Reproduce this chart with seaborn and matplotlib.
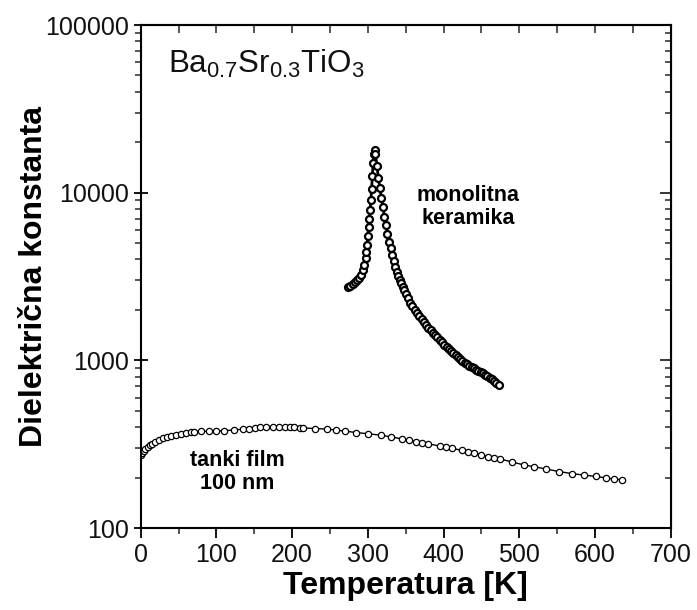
import numpy as np
import pandas as pd
import seaborn as sns
import matplotlib
matplotlib.use("agg")
import matplotlib.pyplot as plt
from matplotlib.ticker import FixedLocator, FuncFormatter, LogLocator, NullFormatter

# thin film 100 nm (temperature K, dielectric constant)
film_t = [0, 2, 4, 6, 9.5, 12, 15, 19, 23.6, 30, 35, 40, 47, 53, 60, 66, 71, 80,
          90, 99, 110, 123, 135, 143, 151, 158, 165, 175, 183, 190, 197, 203, 210,
          215, 230, 246, 258, 270, 285, 300, 317, 330, 345, 355, 364, 372, 380,
          395, 403, 411, 425, 433, 440, 450, 459, 467, 475, 490, 506, 520, 535,
          553, 570, 585, 601, 615, 625, 636]
film_eps = [273, 281, 288, 295, 305, 311, 318, 327, 335, 343, 348, 352, 358, 363,
            367, 372, 375, 377, 378, 378, 381, 384, 389, 392, 396, 398, 400, 402,
            402, 401, 400, 398, 397, 395, 392, 389, 384, 378, 371, 365, 358, 350,
            340, 334, 327, 322, 318, 308, 303, 299, 290, 285, 279, 273, 267, 262,
            258, 248, 238, 232, 225, 217, 211, 207, 203, 199, 196, 194]

# bulk ceramic
cer_t = [274, 277, 280, 283, 286, 289, 291, 293, 295, 297, 298, 299, 300, 301,
         302, 303, 304, 305, 306, 307, 308, 309,
         310, 312, 314, 316, 318, 320, 322, 324, 326, 328, 330, 332, 334, 336,
         338, 340, 342, 344, 346, 348, 350, 353, 356, 359, 362, 365, 368, 371,
         374, 377, 380, 383, 386, 389, 392, 395, 398, 401, 404, 407, 410, 413,
         416, 419, 422, 425, 428, 431, 434, 437, 440, 443, 446, 449, 452, 455,
         458, 461, 464, 467, 470, 473]
cer_eps = [2730, 2780, 2850, 2930, 3000, 3100, 3250, 3450, 3700, 4100, 4400, 4900,
           5500, 6200, 6950, 7900, 9000, 10500, 12500, 15000, 17000, 18000,
           17000, 14500, 12200, 10600, 9300, 8200, 7200, 6400, 5700, 5100, 4650,
           4250, 3900, 3600, 3380, 3200, 3030, 2880, 2740, 2610, 2500, 2350, 2210,
           2100, 2000, 1910, 1830, 1760, 1690, 1630, 1570, 1520, 1460, 1410, 1370,
           1320, 1280, 1240, 1205, 1170, 1135, 1100, 1075, 1045, 1020, 995, 970,
           950, 930, 910, 895, 880, 865, 850, 835, 820, 805, 790, 770, 750, 730,
           710]

y_ticks = [100, 1000, 10000, 100000]
x_ticks = [0, 100, 200, 300, 400, 500, 600, 700]

film = pd.DataFrame({"T": film_t, "eps": film_eps})
cer = pd.DataFrame({"T": cer_t, "eps": cer_eps})

sns.set_style("ticks")
plt.rcParams["font.family"] = ["Liberation Sans", "DejaVu Sans"]
plt.rcParams["mathtext.default"] = "regular"
plt.rcParams["text.color"] = "black"
plt.rcParams["axes.labelcolor"] = "black"

fig = plt.figure(figsize=(6.97, 6.10), dpi=100)
ax = fig.add_axes([0.2019, 0.1344, 0.7602, 0.8246])

film_style = dict(color="black", lw=1.0, marker="o", markersize=4.5,
                  markerfacecolor="white", markeredgecolor="black", markeredgewidth=0.9)
cer_style = dict(color="black", lw=2.0, marker="o", markersize=5,
                 markerfacecolor="white", markeredgecolor="black", markeredgewidth=1.6)
sns.lineplot(data=film, x="T", y="eps", ax=ax, sort=False, **film_style)
sns.lineplot(data=cer, x="T", y="eps", ax=ax, sort=False, **cer_style)

ax.set_yscale("log")
ax.set_xlim(0, 700)
ax.set_ylim(100, 100000)
ax.yaxis.set_major_locator(FixedLocator(y_ticks))
ax.yaxis.set_major_formatter(FuncFormatter(lambda v, p: f"{int(round(v))}"))
ax.yaxis.set_minor_locator(LogLocator(base=10, subs=np.arange(2, 10)))
ax.yaxis.set_minor_formatter(NullFormatter())
ax.xaxis.set_major_locator(FixedLocator(x_ticks))
ax.xaxis.set_minor_locator(FixedLocator(np.arange(50, 700, 100)))

for s in ax.spines.values():
    s.set_linewidth(1.5)
    s.set_color("black")

ax.tick_params(axis="both", which="major", labelsize=18, width=1.3, length=7,
               color="black", labelcolor="#111111")
ax.tick_params(axis="y", which="major", direction="inout", length=10)
ax.tick_params(axis="both", which="minor", width=1.1, length=4)
ax.tick_params(axis="x", which="both", top=False)
ax.tick_params(axis="y", which="both", right=False)

secx = ax.secondary_xaxis("top")
secx.set_xticks(np.arange(50, 700, 50))
secx.tick_params(direction="in", length=6, width=1.1, labeltop=False)
secx.spines["top"].set_linewidth(1.5)

secy = ax.secondary_yaxis("right")
secy.yaxis.set_major_locator(FixedLocator(y_ticks))
secy.yaxis.set_minor_locator(LogLocator(base=10, subs=np.arange(2, 10)))
secy.yaxis.set_major_formatter(NullFormatter())
secy.yaxis.set_minor_formatter(NullFormatter())
secy.tick_params(which="major", direction="in", length=8, width=1.3)
secy.tick_params(which="minor", direction="in", length=4, width=1.1)

ax.set_xlabel("Temperatura [K]", fontsize=23, fontweight="bold", labelpad=3)
ax.set_ylabel("Dielektrična konstanta", fontsize=23, fontweight="bold", labelpad=-3)

ax.text(0.051, 0.905, r"Ba$_{0.7}$Sr$_{0.3}$TiO$_3$", transform=ax.transAxes,
        fontsize=22.5, ha="left", va="baseline", color="#111111")
ax.text(433, 9600, "monolitna", fontsize=15.5, fontweight="bold", ha="center", va="center")
ax.text(433, 7000, "keramika", fontsize=15.5, fontweight="bold", ha="center", va="center")
ax.text(128, 254, "tanki film", fontsize=15.5, fontweight="bold", ha="center", va="center")
ax.text(128, 185, "100 nm", fontsize=15.5, fontweight="bold", ha="center", va="center")

fig.savefig("out.png", dpi=100)
